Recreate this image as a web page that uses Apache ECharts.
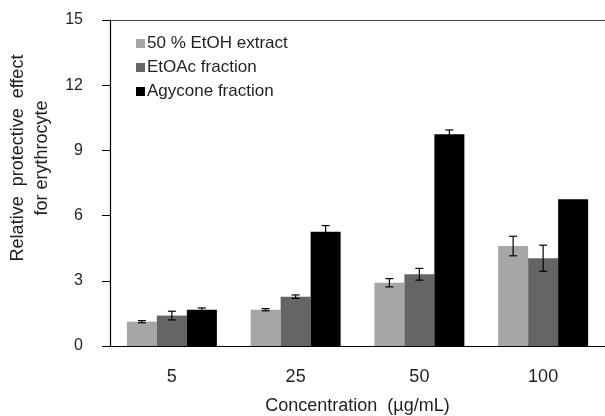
<!DOCTYPE html>
<html>
<head>
<meta charset="utf-8">
<script src="https://cdn.jsdelivr.net/npm/echarts@6/dist/echarts.min.js"></script>
<style>
  html, body { margin: 0; padding: 0; background: #fff; }
  #chart { width: 605px; height: 416px; }
</style>
</head>
<body>
<div id="chart"></div>
<script>
var categories = ['5', '25', '50', '100'];
var seriesNames = ['50 % EtOH extract', 'EtOAc fraction', 'Agycone fraction'];
var etohValues = [1.12, 1.67, 2.91, 4.60];
var etoacValues = [1.40, 2.27, 3.30, 4.04];
var agyconeValues = [1.67, 5.26, 9.74, 6.75];
var etohErrors = [0.05, 0.05, 0.19, 0.45];
var etoacErrors = [0.20, 0.08, 0.27, 0.60];
var agyconeErrors = [0.08, 0.28, 0.20, 0];
var yTicks = [0, 3, 6, 9, 12, 15];

var colors = ['#a6a6a6', '#656565', '#000000'];
var allValues = [etohValues, etoacValues, agyconeValues];
var allErrors = [etohErrors, etoacErrors, agyconeErrors];
var BAR_W = 30;
var FONT = '"Liberation Sans", Arial, sans-serif';
var TEXT = '#1f1f1f';

var chart = echarts.init(document.getElementById('chart'));

// error bars drawn over each bar, shifted to the bar's slot in the group
function errorSeries(idx) {
  var data = allValues[idx].map(function (v, i) {
    return [i, v, allErrors[idx][i]];
  });
  return {
    type: 'custom',
    name: seriesNames[idx] + ' error',
    z: 10,
    silent: true,
    data: data,
    renderItem: function (params, api) {
      var err = api.value(2);
      if (!err) return null;
      var hi = api.coord([api.value(0), api.value(1) + err]);
      var lo = api.coord([api.value(0), api.value(1) - err]);
      var x = hi[0] + (idx - 1) * BAR_W;
      var cap = 4;
      var style = { stroke: '#000', lineWidth: 1.2 };
      return {
        type: 'group',
        children: [
          { type: 'line', shape: { x1: x, y1: hi[1], x2: x, y2: lo[1] }, style: style },
          { type: 'line', shape: { x1: x - cap, y1: hi[1], x2: x + cap, y2: hi[1] }, style: style },
          { type: 'line', shape: { x1: x - cap, y1: lo[1], x2: x + cap, y2: lo[1] }, style: style }
        ]
      };
    }
  };
}

var series = [];
for (var k = 0; k < 3; k++) {
  series.push({
    name: seriesNames[k],
    type: 'bar',
    barWidth: BAR_W,
    barGap: '0%',
    itemStyle: { color: colors[k] },
    data: allValues[k]
  });
}
for (var k = 0; k < 3; k++) {
  series.push(errorSeries(k));
}

var option = {
  backgroundColor: '#fff',
  animation: false,
  textStyle: { fontFamily: FONT },
  grid: { left: 110, right: 0, top: 20, bottom: 70, outerBoundsMode: 'none' },
  legend: {
    data: seriesNames,
    orient: 'vertical',
    left: 131,
    top: 29,
    icon: 'rect',
    itemWidth: 9,
    itemHeight: 9,
    itemGap: 5,
    textStyle: { fontFamily: FONT, fontSize: 17, color: TEXT, lineHeight: 19, padding: [0, 0, 0, -3] }
  },
  xAxis: [{
    type: 'category',
    data: categories,
    name: 'Concentration  (\u00b5g/mL)',
    nameLocation: 'middle',
    nameGap: 51,
    nameTextStyle: { fontFamily: FONT, fontSize: 18, color: TEXT },
    axisLine: { lineStyle: { color: '#000', width: 1.2 } },
    axisTick: { show: false },
    axisLabel: { fontFamily: FONT, fontSize: 18, color: TEXT, margin: 22 }
  }, {
    type: 'category',
    data: categories,
    position: 'top',
    axisLine: { show: true, lineStyle: { color: '#444', width: 1.2 } },
    axisTick: { show: false },
    axisLabel: { show: false }
  }],
  yAxis: {
    type: 'value',
    min: yTicks[0],
    max: yTicks[yTicks.length - 1],
    interval: 3,
    name: 'Relative  protective  effect\nfor erythrocyte',
    nameLocation: 'middle',
    nameGap: 56,
    nameRotate: 90,
    nameTextStyle: {
      fontFamily: FONT, fontSize: 18, color: TEXT, lineHeight: 24, align: 'center',
      padding: [0, 0, 0, 50]
    },
    axisLine: { show: true, lineStyle: { color: '#000', width: 1.2 } },
    axisTick: { show: true, length: 8, lineStyle: { color: '#000' } },
    axisLabel: { fontFamily: FONT, fontSize: 16, color: TEXT, margin: 27 },
    splitLine: { show: false }
  },
  series: series
};

chart.setOption(option);
</script>
</body>
</html>
